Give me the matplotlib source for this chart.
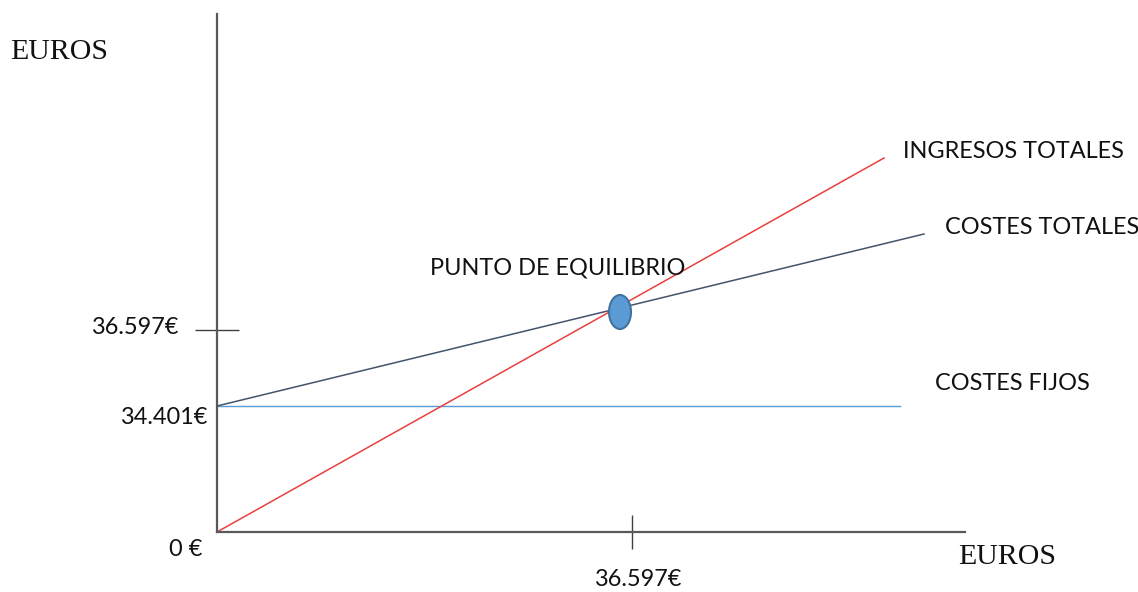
import matplotlib.pyplot as plt
from matplotlib.patches import Ellipse

# schematic units (not to scale, as in the original sketch)
ingresos_x = [0, 667]
ingresos_y = [0, 374]
costes_totales_x = [0, 707]
costes_totales_y = [126, 298]
costes_fijos_x = [0, 683]
costes_fijos_y = [126, 126]
equilibrio = (403, 220)

tick_y = 202
tick_x = 415
labels_y = ['36.597€', '34.401€', '0 €']
label_x = '36.597€'

sans = 'Lato'
serif = 'Liberation Serif'

fig = plt.figure(figsize=(11.38, 5.92), dpi=100)
ax = fig.add_axes([217 / 1138, 60 / 592, 748 / 1138, 518 / 592])
ax.set_xlim(0, 748)
ax.set_ylim(0, 518)

for s in ['top', 'right']:
    ax.spines[s].set_visible(False)
for s in ['left', 'bottom']:
    ax.spines[s].set_color('#595959')
    ax.spines[s].set_linewidth(1.6)

ax.set_yticks([tick_y])
ax.set_xticks([tick_x])
ax.set_yticklabels([])
ax.set_xticklabels([])
ax.tick_params(axis='y', direction='inout', length=32, width=1, color='#404040')
ax.tick_params(axis='x', direction='inout', length=24, width=1, color='#404040')

ax.plot(costes_fijos_x, costes_fijos_y, color='#5B9BD5', lw=1.0)
ax.plot(costes_totales_x, costes_totales_y, color='#44546A', lw=1.1)
ax.plot(ingresos_x, ingresos_y, color='#E8403F', lw=1.1)

ax.add_patch(Ellipse(equilibrio, 22, 34, facecolor='#5B9BD5',
                     edgecolor='#41719C', lw=1.5, zorder=5))

kw = dict(family=sans, fontsize=16.9, color='#111111', va='center', clip_on=False)
ax.text(686, 380, 'INGRESOS TOTALES', ha='left', **kw)
ax.text(728, 304, 'COSTES TOTALES', ha='left', **kw)
ax.text(213, 264, 'PUNTO DE EQUILIBRIO', ha='left', **kw)
ax.text(718, 149, 'COSTES FIJOS', ha='left', **kw)

ax.text(-39, 205, labels_y[0], ha='right', **kw)
ax.text(-10, 115, labels_y[1], ha='right', **kw)
ax.text(-15, -17, labels_y[2], ha='right', **kw)
ax.text(tick_x - 38, -48, label_x, ha='left', **kw)

ax.text(-207, 480, 'EUROS', family=serif, fontsize=21.5, color='#111111',
        ha='left', va='center', clip_on=False)
ax.text(741, -25, 'EUROS', family=serif, fontsize=21.5, color='#111111',
        ha='left', va='center', clip_on=False)

fig.savefig('out.png', dpi=100, facecolor='white')
